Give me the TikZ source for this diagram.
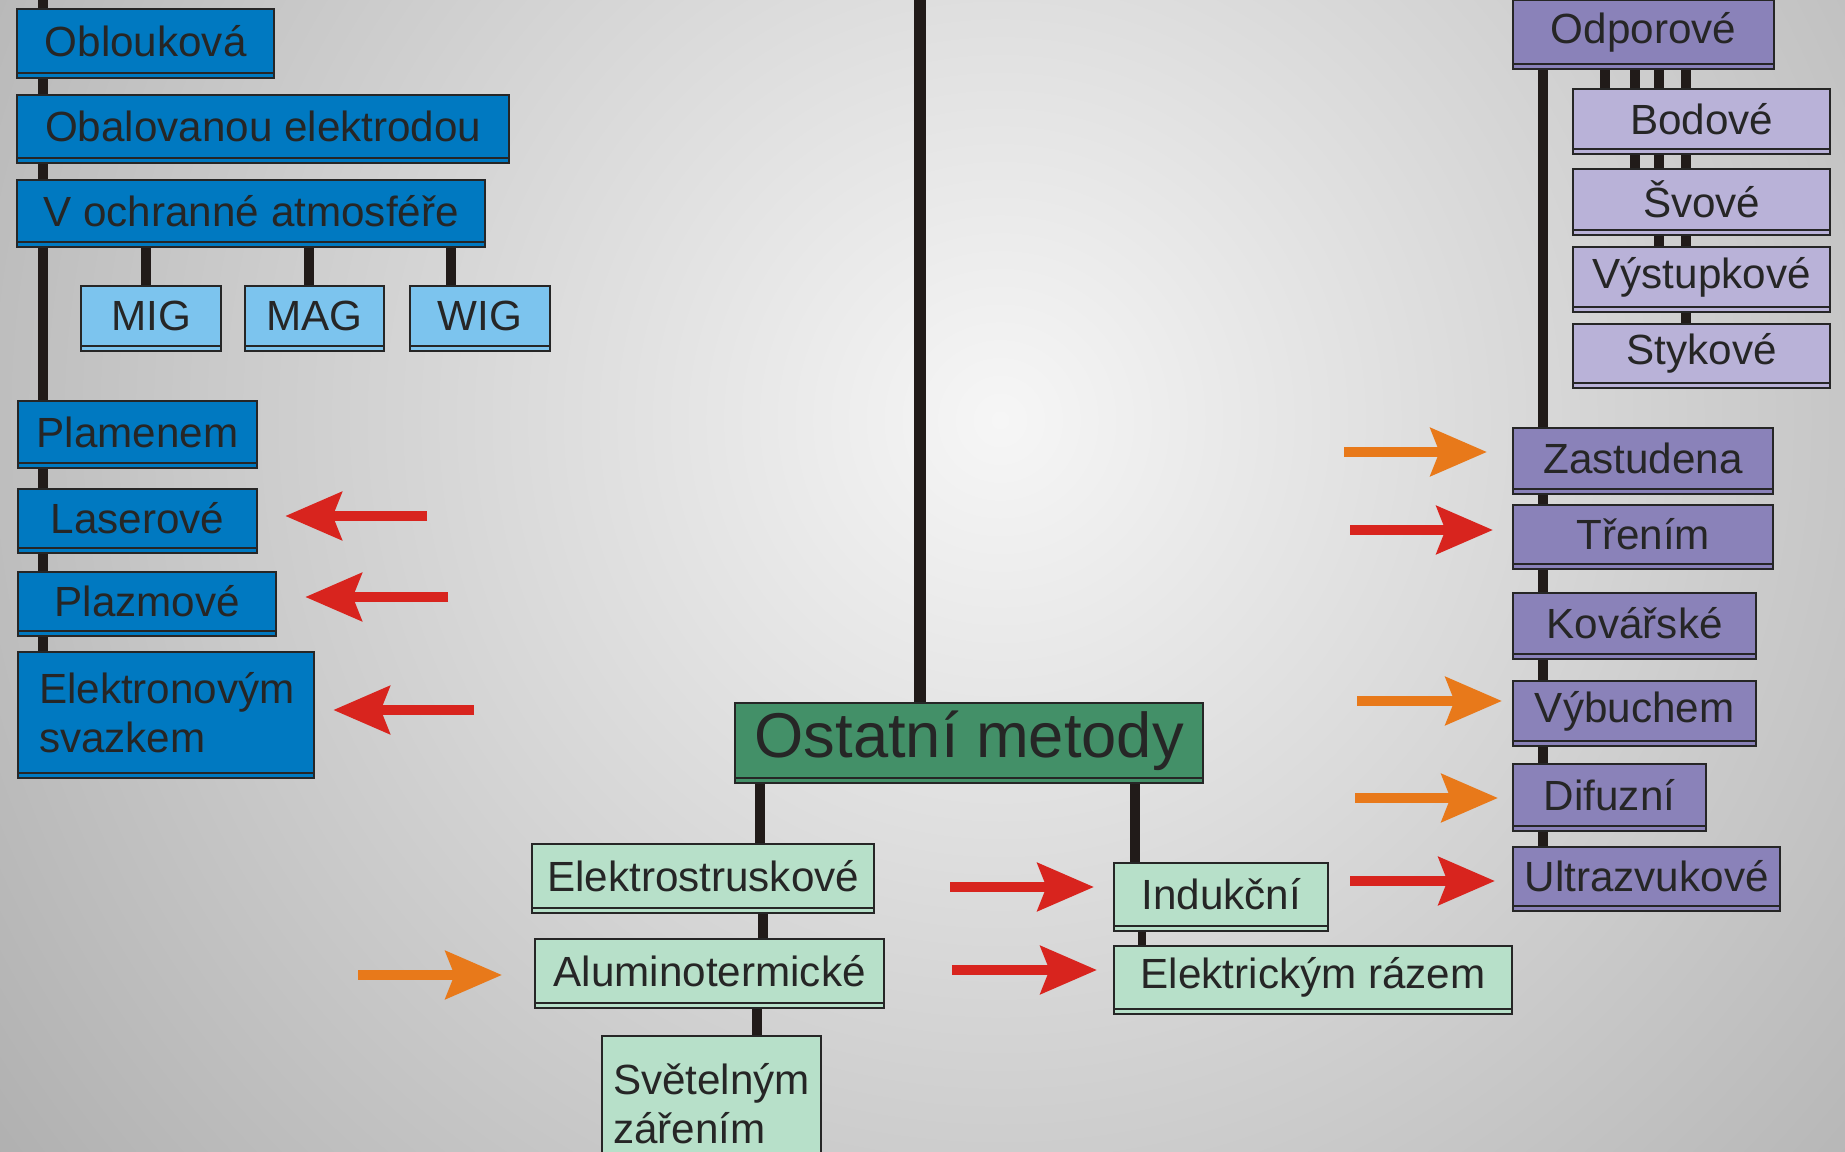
\documentclass[tikz,border=0pt]{standalone}
\usepackage{fontspec}
\setmainfont{Liberation Sans}
\usetikzlibrary{arrows.meta,shadows}
\pgfdeclarelayer{bg}
\pgfdeclarelayer{links}
\pgfsetlayers{bg,links,main}
\definecolor{bglight}{RGB}{246,246,246}
\definecolor{bgdark}{RGB}{145,145,145}
\definecolor{boxblue}{RGB}{0,121,193}
\definecolor{lightblue}{RGB}{124,196,238}
\definecolor{purp}{RGB}{138,130,185}
\definecolor{lightpurp}{RGB}{185,178,216}
\definecolor{darkgreen}{RGB}{67,144,104}
\definecolor{lightgreen}{RGB}{183,224,201}
\definecolor{arrred}{RGB}{216,36,30}
\definecolor{arrorange}{RGB}{232,121,26}
\definecolor{linkcol}{RGB}{33,27,25}
\begin{document}
\begin{tikzpicture}[x=0.01cm, y=-0.01cm,
  box/.style={draw=black!85, line width=0.6pt, anchor=north west, inner sep=0pt,
    text=black!85, font=\fontsize{12}{14}\selectfont},
  shadowed/.style={general shadow={fill=#1, draw=black!85, line width=0.6pt, shadow yshift=-1.4pt}},
  bluebox/.style={box, fill=boxblue, shadowed=boxblue},
  ltbluebox/.style={box, fill=lightblue, shadowed=lightblue},
  purpbox/.style={box, fill=purp, shadowed=purp},
  ltpurpbox/.style={box, fill=lightpurp, shadowed=lightpurp},
  greenbox/.style={box, fill=darkgreen, shadowed=darkgreen, font=\fontsize{18}{21}\selectfont},
  ltgreenbox/.style={box, fill=lightgreen, shadowed=lightgreen},
  link/.style={line width=2.85pt, draw=linkcol},
  redarrow/.style={line width=2.85pt, draw=arrred, -{Stealth[length=16pt, width=13.5pt, inset=2.5pt]}},
  orangearrow/.style={redarrow, draw=arrorange}]
\useasboundingbox (0,0) rectangle (1845,1152);

% background
\begin{pgfonlayer}{bg}
\begin{scope}
\clip (0,0) rectangle (1845,1152);
\shade[inner color=bglight, outer color=bgdark] (1000,420) circle (1800);
\end{scope}
\end{pgfonlayer}

% left column
\node[bluebox, minimum width=2.57cm, minimum height=0.64cm] (oblouk) at (16,8) {Oblouková};
\node[bluebox, minimum width=4.92cm, minimum height=0.63cm] (obal) at (16,94) {Obalovanou elektrodou};
\node[bluebox, minimum width=4.68cm, minimum height=0.62cm] (atmos) at (16,179) {V ochranné atmosféře};
\node[ltbluebox, minimum width=1.40cm, minimum height=0.60cm] (mig) at (80,285) {MIG};
\node[ltbluebox, minimum width=1.39cm, minimum height=0.60cm] (mag) at (244,285) {MAG};
\node[ltbluebox, minimum width=1.40cm, minimum height=0.60cm] (wig) at (409,285) {WIG};
\node[bluebox, minimum width=2.39cm, minimum height=0.62cm] (plamen) at (17,400) {Plamenem};
\node[bluebox, minimum width=2.39cm, minimum height=0.59cm] (laser) at (17,488) {Laserové};
\node[bluebox, minimum width=2.58cm, minimum height=0.59cm] (plazma) at (17,571) {Plazmové};
\node[bluebox, minimum width=2.96cm, minimum height=1.21cm, align=left, text width=2.54cm]
  (elektron) at (17,651) {Elektronovým\\svazkem};

% right column
\node[purpbox, minimum width=2.61cm, minimum height=0.64cm] (odpor) at (1512,-1) {Odporové};
\node[ltpurpbox, minimum width=2.57cm, minimum height=0.60cm] (bodove) at (1572,88) {Bodové};
\node[ltpurpbox, minimum width=2.57cm, minimum height=0.61cm] (svove) at (1572,168) {Švové};
\node[ltpurpbox, minimum width=2.57cm, minimum height=0.60cm] (vystup) at (1572,246) {Výstupkové};
\node[ltpurpbox, minimum width=2.57cm, minimum height=0.59cm] (stykove) at (1572,323) {Stykové};
\node[purpbox, minimum width=2.60cm, minimum height=0.61cm] (zastud) at (1512,427) {Zastudena};
\node[purpbox, minimum width=2.60cm, minimum height=0.59cm] (treni) at (1512,504) {Třením};
\node[purpbox, minimum width=2.43cm, minimum height=0.61cm] (kovar) at (1512,592) {Kovářské};
\node[purpbox, minimum width=2.43cm, minimum height=0.60cm] (vybuch) at (1512,680) {Výbuchem};
\node[purpbox, minimum width=1.93cm, minimum height=0.62cm] (difuz) at (1512,763) {Difuzní};
\node[purpbox, minimum width=2.67cm, minimum height=0.59cm] (ultra) at (1512,846) {Ultrazvukové};

% middle
\node[greenbox, minimum width=4.68cm, minimum height=0.75cm] (ostatni) at (734,702) {Ostatní metody};
\node[ltgreenbox, minimum width=3.42cm, minimum height=0.64cm] (elektro) at (531,843) {Elektrostruskové};
\node[ltgreenbox, minimum width=3.49cm, minimum height=0.64cm] (alumin) at (534,938) {Aluminotermické};
\node[ltgreenbox, minimum width=2.19cm, minimum height=1.35cm, align=left, text width=1.97cm]
  (svetel) at (601,1035) {Světelným\\zářením};
\node[ltgreenbox, minimum width=2.14cm, minimum height=0.63cm] (indukce) at (1113,862) {Indukční};
\node[ltgreenbox, minimum width=3.98cm, minimum height=0.63cm] (razem) at (1113,945) {Elektrickým rázem};

% connectors
\coordinate (ltop) at (43,-10);
\coordinate (ctop) at (920,-10);
\begin{pgfonlayer}{links}
\draw[link] (ltop) -- (ltop |- elektron.north);
\foreach \n/\x in {mig/146, mag/309, wig/451}
  \draw[link] (\x,0 |- atmos.south) -- (\x,0 |- \n.north);
\foreach \n/\x in {bodove/1605, svove/1635, vystup/1659, stykove/1686}
  \draw[link] (\x,0 |- odpor.south) -- (\x,0 |- \n.north);
\draw[link] (1543,0 |- odpor.south) -- (1543,0 |- ultra.north);
\draw[link, line width=3.6pt] (ctop) -- (ctop |- ostatni.north);
\draw[link] (760,0 |- ostatni.south) -- (760,0 |- elektro.north);
\draw[link] (1135,0 |- ostatni.south) -- (1135,0 |- indukce.north);
\draw[link] (763,0 |- elektro.south) -- (763,0 |- alumin.north);
\draw[link] (757,0 |- alumin.south) -- (757,0 |- svetel.north);
\draw[link, line width=2.3pt] (1142,0 |- indukce.south) -- (1142,0 |- razem.north);
\end{pgfonlayer}

% arrows
\coordinate (laserT) at (427,516);
\coordinate (plazmaT) at (448,597);
\coordinate (elektronT) at (474,710);
\coordinate (zastudT) at (1344,452);
\coordinate (treniT) at (1350,530);
\coordinate (vybuchT) at (1357,701);
\coordinate (difuzT) at (1355,798);
\coordinate (ultraT) at (1350,881);
\coordinate (indukceT) at (950,887);
\coordinate (razemT) at (952,970);
\coordinate (aluminT) at (358,975);
\draw[redarrow, shorten >=0.27cm] (laserT) -- (laser.east |- laserT);
\draw[redarrow, shorten >=0.28cm] (plazmaT) -- (plazma.east |- plazmaT);
\draw[redarrow, shorten >=0.18cm] (elektronT) -- (elektron.east |- elektronT);
\draw[orangearrow, shorten >=0.25cm] (zastudT) -- (zastud.west |- zastudT);
\draw[redarrow, shorten >=0.19cm] (treniT) -- (treni.west |- treniT);
\draw[orangearrow, shorten >=0.10cm] (vybuchT) -- (vybuch.west |- vybuchT);
\draw[orangearrow, shorten >=0.14cm] (difuzT) -- (difuz.west |- difuzT);
\draw[redarrow, shorten >=0.17cm] (ultraT) -- (ultra.west |- ultraT);
\draw[redarrow, shorten >=0.19cm] (indukceT) -- (indukce.west |- indukceT);
\draw[redarrow, shorten >=0.16cm] (razemT) -- (razem.west |- razemT);
\draw[orangearrow, shorten >=0.32cm] (aluminT) -- (alumin.west |- aluminT);
\end{tikzpicture}
\end{document}
